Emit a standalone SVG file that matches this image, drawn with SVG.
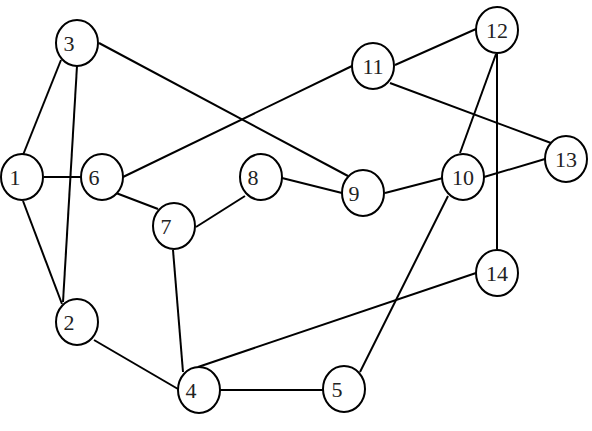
<svg xmlns="http://www.w3.org/2000/svg" width="592" height="431" viewBox="0 0 592 431">
<style>
.e{stroke:#000;stroke-width:2;fill:none}
.n ellipse{fill:#fff;stroke:#000;stroke-width:2}
.n text{font-family:"Liberation Serif","Times New Roman",serif;font-size:22px;fill:#222;text-anchor:middle}
</style>
<rect width="592" height="431" fill="#fff"/>
<g id="edges" class="e">
<line x1="61" y1="60" x2="23" y2="155"/>
<line x1="77" y1="66" x2="63" y2="302"/>
<line x1="99" y1="43" x2="348" y2="176"/>
<line x1="44" y1="177" x2="81" y2="177"/>
<line x1="23" y1="201" x2="62" y2="304"/>
<line x1="123" y1="177" x2="352" y2="66"/>
<line x1="116" y1="193" x2="158" y2="209"/>
<line x1="196" y1="227" x2="245" y2="196"/>
<line x1="282" y1="178" x2="342" y2="193"/>
<line x1="173" y1="250" x2="183" y2="372"/>
<line x1="94" y1="340" x2="178" y2="389"/>
<line x1="220" y1="390" x2="323" y2="390"/>
<line x1="198" y1="367" x2="476" y2="273"/>
<line x1="448" y1="196" x2="360" y2="372"/>
<line x1="385" y1="193" x2="443" y2="178"/>
<line x1="484" y1="177" x2="545" y2="159"/>
<line x1="460" y1="153" x2="496" y2="54"/>
<line x1="395" y1="65" x2="476" y2="29"/>
<line x1="390" y1="83" x2="551" y2="143"/>
<line x1="497" y1="53" x2="497" y2="249"/>
</g>
<g id="n1" class="n"><ellipse cx="22" cy="177" rx="21" ry="23"/><text x="15" y="185">1</text></g>
<g id="n2" class="n"><ellipse cx="77" cy="322" rx="21" ry="23"/><text x="69" y="330">2</text></g>
<g id="n3" class="n"><ellipse cx="77" cy="43" rx="21" ry="23"/><text x="69" y="51">3</text></g>
<g id="n4" class="n"><ellipse cx="199" cy="390" rx="21" ry="23"/><text x="191" y="398">4</text></g>
<g id="n5" class="n"><ellipse cx="344" cy="389" rx="21" ry="23"/><text x="337" y="397">5</text></g>
<g id="n6" class="n"><ellipse cx="102" cy="177" rx="21" ry="23"/><text x="94" y="185">6</text></g>
<g id="n7" class="n"><ellipse cx="174" cy="226" rx="21" ry="23"/><text x="166" y="234">7</text></g>
<g id="n8" class="n"><ellipse cx="261" cy="177" rx="21" ry="23"/><text x="253" y="185">8</text></g>
<g id="n9" class="n"><ellipse cx="363" cy="193" rx="21" ry="23"/><text x="354" y="201">9</text></g>
<g id="n10" class="n"><ellipse cx="463" cy="177" rx="21" ry="23"/><text x="463" y="185">10</text></g>
<g id="n11" class="n"><ellipse cx="373" cy="66" rx="21" ry="23"/><text x="373" y="74">11</text></g>
<g id="n12" class="n"><ellipse cx="497" cy="30" rx="21" ry="23"/><text x="497" y="38">12</text></g>
<g id="n13" class="n"><ellipse cx="566" cy="159" rx="21" ry="23"/><text x="566" y="167">13</text></g>
<g id="n14" class="n"><ellipse cx="497" cy="273" rx="21" ry="23"/><text x="497" y="281">14</text></g>
</svg>
